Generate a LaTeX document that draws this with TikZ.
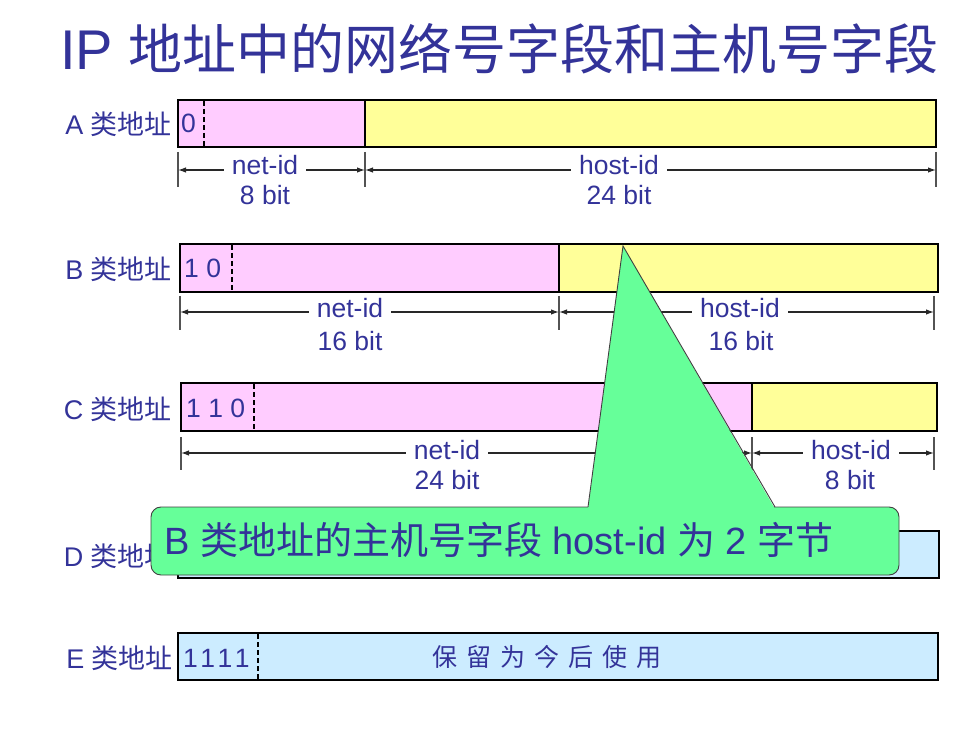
\documentclass[tikz,border=0pt]{standalone}
\usepackage{fontspec}
\setmainfont{Liberation Sans}
\newfontfamily\cjk{Noto Sans CJK SC}
\usetikzlibrary{arrows.meta}
\definecolor{txt}{RGB}{51,51,153}
\definecolor{netc}{RGB}{255,204,255}
\definecolor{hostc}{RGB}{255,255,153}
\definecolor{resc}{RGB}{204,236,255}
\definecolor{callc}{RGB}{102,255,153}
\definecolor{dimc}{RGB}{40,40,40}
\newcommand{\fsz}[1]{\fontsize{#1}{#1}\selectfont}
\begin{document}
\begin{tikzpicture}[x=1pt,y=-1pt,
  field/.style={line width=2.6pt, draw=black},
  sepline/.style={line width=1.6pt, draw=black},
  dsep/.style={line width=1.5pt, draw=black, dash pattern=on 5pt off 3pt},
  cls/.style={anchor=base east, text=txt, font=\fsz{27}, inner sep=0pt},
  bits/.style={anchor=base west, text=txt, font=\fsz{26.5}, inner sep=0pt},
  dimline/.style={draw=dimc, line width=1.2pt, {Latex[length=8pt,width=5.5pt]}-{Latex[length=8pt,width=5.5pt]}},
  tick/.style={draw=dimc!80, line width=1.1pt},
  dimlab/.style={anchor=base, fill=white, text=txt, font=\fsz{26.5}, inner xsep=8pt, inner ysep=1pt},
  sublab/.style={anchor=base, text=txt, font=\fsz{26.5}, inner sep=0pt},
  callbox/.style={draw=black!75, line width=0.9pt, fill=callc},
]
\useasboundingbox (0,0) rectangle (980,735);

% title
\node[anchor=base west, text=txt, inner sep=0pt] (title) at (60,70)
  {\fsz{56}IP {\fsz{54}\cjk 地址中的网络号字段和主机号字段}};

% ---------- A ----------
\fill[netc] (178,100) rectangle (365,147);
\fill[hostc] (365,100) rectangle (936,147);
\draw[sepline] (365,100) -- (365,147);
\draw[dsep] (204,101) -- (204,146);
\draw[field] (178,100) rectangle (936,147);
\node[cls] (la) at (172,135) {A {\cjk 类地址}};
\node[bits] (ba) at (181,133) {0};
\coordinate (a0) at (178,170);
\coordinate (a1) at (365,170);
\coordinate (a2) at (936,170);
\foreach \c in {a0,a1,a2} \draw[tick] (\c) ++(0,-18) -- ++(0,35);
\draw[dimline] (a0) -- (a1);
\draw[dimline] (a1) -- (a2);
\node[dimlab] (nida) at (265,175) {net-id};
\node[sublab] (nbita) at (265,205) {8 bit};
\node[dimlab] (hida) at (619,175) {host-id};
\node[sublab] (hbita) at (619,205) {24 bit};

% ---------- B ----------
\fill[netc] (180,244) rectangle (559,292);
\fill[hostc] (559,244) rectangle (938,292);
\draw[sepline] (559,244) -- (559,292);
\draw[dsep] (232,245) -- (232,291);
\draw[field] (180,244) rectangle (938,292);
\node[cls] (lb) at (172,280) {B {\cjk 类地址}};
\node[bits] (bb) at (184,278) {1 0};
\coordinate (b0) at (180,312);
\coordinate (b1) at (559,312);
\coordinate (b2) at (934,312);
\foreach \c in {b0,b1,b2} \draw[tick] (\c) ++(0,-16) -- ++(0,34);
\draw[dimline] (b0) -- (b1);
\draw[dimline] (b1) -- (b2);
\node[dimlab] (nidb) at (350,318) {net-id};
\node[sublab] (nbitb) at (350,350) {16 bit};
\node[dimlab] (hidb) at (740,318) {host-id};
\node[sublab] (hbitb) at (741,350) {16 bit};

% ---------- C ----------
\fill[netc] (181,383) rectangle (752,431);
\fill[hostc] (752,383) rectangle (937,431);
\draw[sepline] (752,383) -- (752,431);
\draw[dsep] (254,384) -- (254,430);
\draw[field] (181,383) rectangle (937,431);
\node[cls] (lc) at (172,419) {C {\cjk 类地址}};
\node[bits] (bc) at (186,417) {1 1 0};
\coordinate (c0) at (181,453);
\coordinate (c1) at (752,453);
\coordinate (c2) at (934,453);
\foreach \c in {c0,c1,c2} \draw[tick] (\c) ++(0,-16) -- ++(0,33);
\draw[dimline] (c0) -- (c1);
\draw[dimline] (c1) -- (c2);
\node[dimlab] (nidc) at (447,459) {net-id};
\node[sublab] (nbitc) at (447,489) {24 bit};
\node[dimlab] (hidc) at (851,459) {host-id};
\node[sublab] (hbitc) at (850,489) {8 bit};

% ---------- D ----------
\fill[resc] (178,531) rectangle (939,578);
\draw[field] (178,531) rectangle (939,578);
\node[cls] (ld) at (172,566) {D {\cjk 类地址}};

% ---------- E ----------
\fill[resc] (178,633) rectangle (938,680);
\draw[dsep] (258,634) -- (258,679);
\draw[field] (178,633) rectangle (938,680);
\node[cls] (le) at (173,668) {E {\cjk 类地址}};
\node[bits] (be) at (183,667) {1\kern2.5pt1\kern2.5pt1\kern2.5pt1};
\node[anchor=base, text=txt, inner sep=0pt, font=\fsz{25}\cjk] (res) at (547,666)
  {保\hspace{9pt}留\hspace{9pt}为\hspace{9pt}今\hspace{9pt}后\hspace{9pt}使\hspace{9pt}用};

% ---------- callout ----------
\draw[callbox, rounded corners=10pt] (151,507) rectangle (899,575);
\fill[callc] (588,509) -- (623,246) -- (775,509) -- cycle;
\draw[draw=black!75, line width=0.9pt, line join=miter] (588,507) -- (623,246) -- (775,507);
\node[anchor=base west, text=txt, inner sep=0pt] (callt) at (164,554)
  {\fsz{38}B {\cjk 类地址的主机号字段} host-id {\cjk 为} 2 {\cjk 字节}};
\end{tikzpicture}
\end{document}
